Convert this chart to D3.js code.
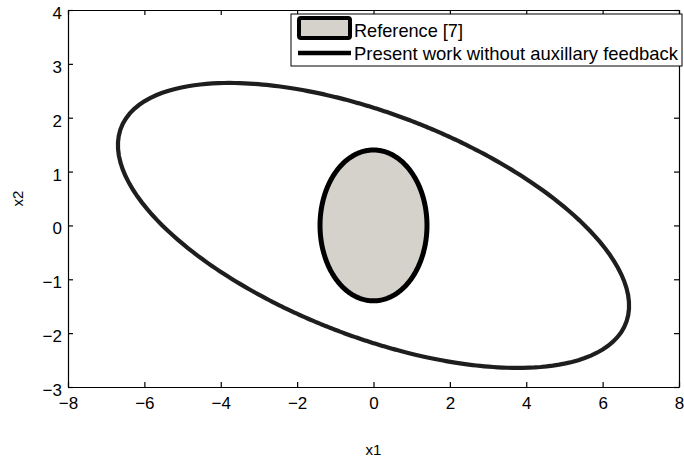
<!DOCTYPE html>
<html>
<head>
<meta charset="utf-8">
<script src="https://cdn.jsdelivr.net/npm/d3@7"></script>
<style>
  body { margin: 0; background: #fff; }
  text { font-family: "Liberation Sans", Arial, sans-serif; }
</style>
</head>
<body>
<div id="viz"></div>
<script>
// data
var xTicks = [-8, -6, -4, -2, 0, 2, 4, 6, 8],
    yTicks = [-3, -2, -1, 0, 1, 2, 3, 4];

// level sets x'Px = 1, P given as [p11, p12, p22]
var outerP = [0.0327, 0.0466, 0.2093];   // present work
var innerP = [0.51, 0, 0.51];            // reference [7]

var legendLabels = ['Reference [7]', 'Present work without auxillary feedback'];

var margin = {top: 10, right: 5, bottom: 77, left: 68},
    width = 684 - margin.left - margin.right,
    height = 464 - margin.top - margin.bottom;

var xScale = d3.scaleLinear().domain([-8, 8]).range([0, width]),
    yScale = d3.scaleLinear().domain([-3, 4]).range([height, 0]);

var svg = d3.select('#viz').append('svg')
    .attr('width', 684)
    .attr('height', 464);

var chart = svg.append('g')
    .attr('transform', 'translate(' + margin.left + ',' + margin.top + ')');

// boundary of a level set, one point per degree
function levelSet(P) {
  return d3.range(0, 361).map(function(deg) {
    var t = deg * Math.PI / 180,
        c = Math.cos(t), s = Math.sin(t),
        r = 1 / Math.sqrt(P[0] * c * c + 2 * P[1] * c * s + P[2] * s * s);
    return [r * c, r * s];
  });
}

var lineFunc = d3.line()
  .x(function(d) { return xScale(d[0]); })
  .y(function(d) { return yScale(d[1]); })
  .curve(d3.curveLinearClosed);

chart.append('path')
  .attr('d', lineFunc(levelSet(outerP)))
  .attr('fill', 'none')
  .attr('stroke', '#1e1e1e')
  .attr('stroke-width', 4.2);

chart.append('path')
  .attr('d', lineFunc(levelSet(innerP)))
  .attr('fill', '#d4d2cb')
  .attr('stroke', '#000')
  .attr('stroke-width', 5);

// axes, ticks pointing inside on all four sides
var fmt = d3.format('d');
var xBottom = d3.axisBottom(xScale).tickValues(xTicks).tickFormat(fmt).tickSizeInner(-5).tickSizeOuter(0).tickPadding(10),
    xTop = d3.axisTop(xScale).tickValues(xTicks).tickSizeInner(-5).tickSizeOuter(0).tickFormat(''),
    yLeft = d3.axisLeft(yScale).tickValues(yTicks).tickFormat(fmt).tickSizeInner(-5).tickSizeOuter(0).tickPadding(6),
    yRight = d3.axisRight(yScale).tickValues(yTicks).tickSizeInner(-5).tickSizeOuter(0).tickFormat('');

chart.append('g').attr('transform', 'translate(0,' + height + ')').call(xBottom);
chart.append('g').call(xTop);
var yg = chart.append('g').call(yLeft);
chart.append('g').attr('transform', 'translate(' + width + ',0)').call(yRight);

chart.selectAll('.domain, .tick line').attr('stroke', '#000').attr('stroke-width', 1.2);
chart.selectAll('.tick text').attr('font-size', 17).attr('fill', '#000')
  .style('font-family', '"Liberation Sans", Arial, sans-serif');
yg.selectAll('.tick text').attr('dy', '0.5em');

// axis titles
svg.append('text')
  .attr('x', margin.left + width / 2)
  .attr('y', 455)
  .attr('text-anchor', 'middle')
  .attr('font-size', 15)
  .text('x1');

svg.append('text')
  .attr('transform', 'translate(23,' + (margin.top + height / 2) + ') rotate(-90)')
  .attr('text-anchor', 'middle')
  .attr('font-size', 15)
  .text('x2');

// legend
var legend = svg.append('g').attr('transform', 'translate(291,14)');

legend.append('rect')
  .attr('width', 391).attr('height', 52)
  .attr('fill', '#fff').attr('stroke', '#000').attr('stroke-width', 1);

legend.append('rect')
  .attr('x', 8).attr('y', 4).attr('width', 51).attr('height', 20).attr('rx', 2)
  .attr('fill', '#d4d2cb').attr('stroke', '#000').attr('stroke-width', 4);

legend.append('line')
  .attr('x1', 7).attr('x2', 60).attr('y1', 39).attr('y2', 39)
  .attr('stroke', '#000').attr('stroke-width', 4.5);

legend.selectAll('text.lab')
  .data(legendLabels)
  .enter().append('text')
  .attr('class', 'lab')
  .attr('x', 63)
  .attr('y', function(d, i) { return 22.7 + i * 23.3; })
  .attr('font-size', 18.5)
  .attr('textLength', function(d, i) { return i === 0 ? 109 : 324; })
  .attr('lengthAdjust', 'spacingAndGlyphs')
  .text(function(d) { return d; });
</script>
</body>
</html>
